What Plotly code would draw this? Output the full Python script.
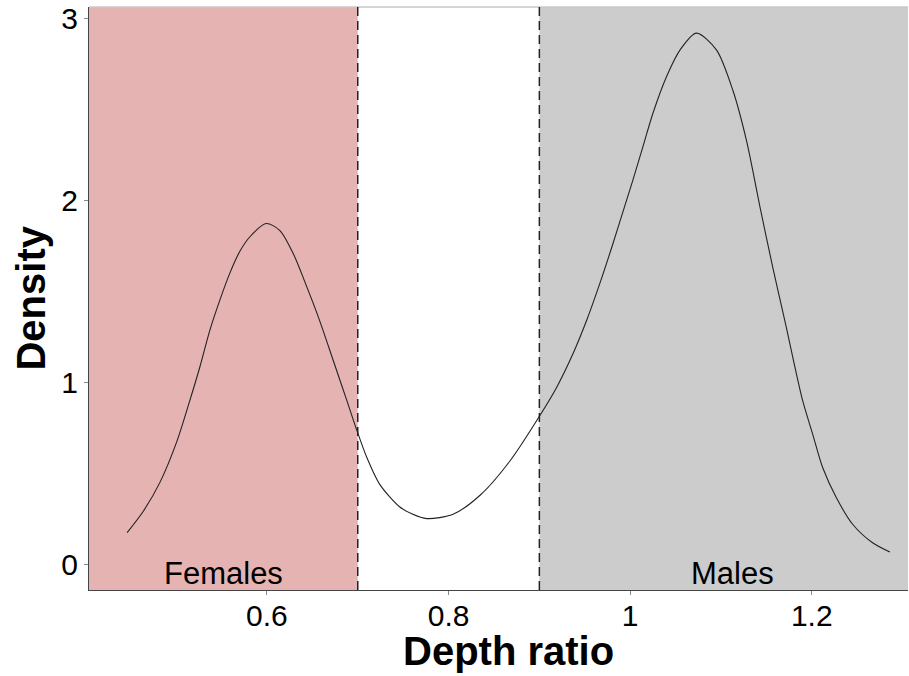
import plotly.graph_objects as go

# Density curve
depth_ratio = [0.446, 0.464, 0.482, 0.501, 0.515, 0.526, 0.537, 0.548, 0.559, 0.570,
               0.581, 0.599, 0.614, 0.629, 0.644, 0.658, 0.673, 0.688, 0.698, 0.710,
               0.724, 0.746, 0.760, 0.776, 0.805, 0.835, 0.868, 0.899, 0.919, 0.937,
               0.952, 0.967, 0.981, 0.996, 1.003, 1.014, 1.025, 1.040, 1.055, 1.073,
               1.095, 1.113, 1.128, 1.143, 1.157, 1.172, 1.179, 1.190, 1.201, 1.212,
               1.227, 1.245, 1.267, 1.286]
density = [0.173, 0.292, 0.448, 0.678, 0.899, 1.083, 1.285, 1.451, 1.600, 1.720,
           1.800, 1.874, 1.837, 1.708, 1.524, 1.340, 1.120, 0.899, 0.750, 0.586,
           0.440, 0.315, 0.275, 0.250, 0.274, 0.380, 0.570, 0.805, 0.972, 1.157,
           1.340, 1.550, 1.763, 2.002, 2.113, 2.296, 2.480, 2.682, 2.830, 2.922,
           2.830, 2.609, 2.333, 1.965, 1.634, 1.303, 1.140, 0.899, 0.715, 0.531,
           0.366, 0.219, 0.117, 0.066]

thresholds = [0.7, 0.9]
region_labels = ["Females", "Males"]
x_ticks = [0.6, 0.8, 1.0, 1.2]
x_tick_text = ["0.6", "0.8", "1", "1.2"]
y_ticks = [0, 1, 2, 3]

x_range = [0.404, 1.306]
y_range = [-0.143, 3.066]

fig = go.Figure()
fig.add_trace(go.Scatter(x=depth_ratio, y=density, mode="lines",
                         line=dict(color="#222222", width=1.1, shape="spline", smoothing=0.8),
                         hoverinfo="skip", showlegend=False))

shapes = [
    dict(type="rect", xref="x", yref="paper", x0=x_range[0], x1=thresholds[0], y0=0, y1=1,
         fillcolor="#E6B3B3", line=dict(width=0), layer="below"),
    dict(type="rect", xref="x", yref="paper", x0=thresholds[1], x1=x_range[1], y0=0, y1=1,
         fillcolor="#CCCCCC", line=dict(width=0), layer="below"),
    dict(type="line", xref="paper", yref="paper", x0=0, x1=1, y0=1, y1=1,
         line=dict(color="#C8C8C8", width=1.5)),
]
for t in thresholds:
    shapes.append(dict(type="line", xref="x", yref="paper", x0=t, x1=t, y0=0, y1=1,
                       line=dict(color="#222222", width=1.5, dash="9px,5px")))

annotations = [
    dict(x=(x_range[0] + thresholds[0]) / 2, y=-0.05, xref="x", yref="y", text=region_labels[0],
         showarrow=False, font=dict(size=31, color="black"), yanchor="middle"),
    dict(x=(thresholds[1] + x_range[1]) / 2 + 0.01, y=-0.05, xref="x", yref="y", text=region_labels[1],
         showarrow=False, font=dict(size=31, color="black"), yanchor="middle"),
    dict(x=0.5116, y=-0.105, xref="paper", yref="paper", text="<b>Depth ratio</b>",
         showarrow=False, font=dict(size=40, color="black"), yanchor="middle"),
    dict(x=-0.072, y=0.5, xref="paper", yref="paper", text="<b>Density</b>", textangle=-90,
         showarrow=False, font=dict(size=40, color="black"), xanchor="center", yanchor="middle"),
]

fig.update_layout(
    width=909, height=676,
    margin=dict(l=89, r=1, t=7, b=86),
    paper_bgcolor="white", plot_bgcolor="white",
    font=dict(family="Liberation Sans, Arial, Helvetica, sans-serif", color="black"),
    shapes=shapes, annotations=annotations,
    xaxis=dict(range=x_range, tickvals=x_ticks, ticktext=x_tick_text, showgrid=False,
               zeroline=False, showline=True, linecolor="#444444", linewidth=1.2,
               ticks="outside", ticklen=4, tickcolor="#888888", tickfont=dict(size=30),
               ticklabelstandoff=-5),
    yaxis=dict(range=y_range, tickvals=y_ticks, showgrid=False, zeroline=False,
               showline=True, linecolor="#444444", linewidth=1.2,
               ticks="outside", ticklen=4, tickcolor="#888888", tickfont=dict(size=30)),
)

fig.write_html("out.html")
